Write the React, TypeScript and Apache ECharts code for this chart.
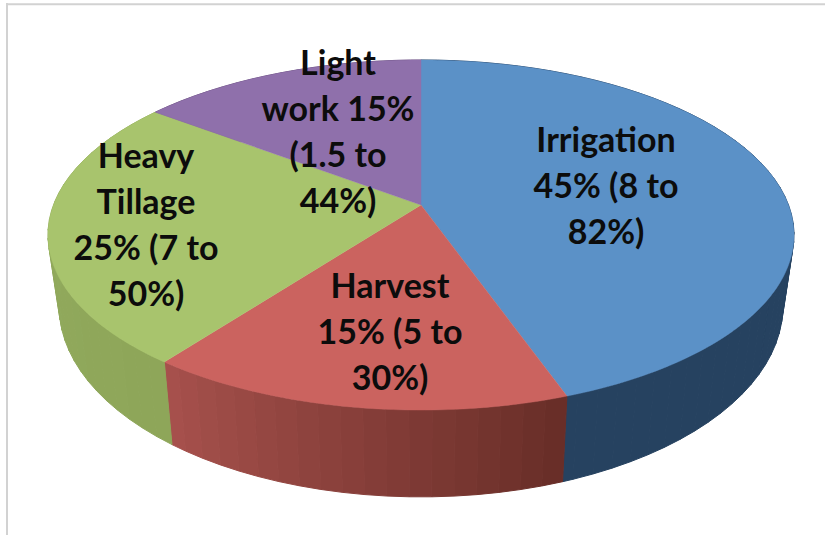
import React, { useEffect, useRef } from "react";
import * as echarts from "echarts";

const categories = ["Irrigation", "Harvest", "Heavy Tillage", "Light work"];
// Slice shares as measured on the picture (the printed labels round these).
const shares = [44.6, 15.7, 25, 14.7];
const labelTexts = [
  "Irrigation\n45% (8 to\n82%)",
  "Harvest\n15% (5 to\n30%)",
  "Heavy\nTillage\n25% (7 to\n50%)",
  "Light\nwork 15%\n(1.5 to\n44%)",
];
const labelCentres = [
  [606, 184],
  [390, 330],
  [146, 223],
  [338, 130],
];
const topColours = ["#5b91c7", "#cb635f", "#a8c46d", "#8f70ab"];
const wallFrom = [[0x26, 0x42, 0x60], [0x69, 0x2e, 0x28], [0x8e, 0xa6, 0x59], [0x6b, 0x52, 0x80]];
const wallTo = [[0x26, 0x42, 0x60], [0xa9, 0x52, 0x4e], [0x94, 0xad, 0x60], [0x6b, 0x52, 0x80]];

const CX = 421;
const PERSPECTIVE = 0.1715;
const TOP = { y: 205, a: 367.5, b: 169.9 };
const BOTTOM = { y: 273.6, a: 356.5, b: 185 };

function project(deg: number, plane: { y: number; a: number; b: number }): number[] {
  const t = (deg * Math.PI) / 180;
  const w = 1 + PERSPECTIVE * Math.cos(t);
  return [CX + (plane.a * Math.sin(t)) / w, plane.y - (plane.b * Math.cos(t)) / w];
}

function sliceRange(index: number): number[] {
  const total = shares.reduce((s, v) => s + v, 0);
  const before = shares.slice(0, index).reduce((s, v) => s + v, 0);
  return [(before / total) * 360, ((before + shares[index]) / total) * 360];
}

function mix(a: number[], b: number[], f: number): string {
  const c = a.map((v, i) => Math.round(v + (b[i] - v) * f));
  return `rgb(${c[0]},${c[1]},${c[2]})`;
}

const STEP = 3;

function renderWall(params: any) {
  const i = params.dataIndex;
  const [start, end] = sliceRange(i);
  const children: any[] = [];
  for (let d = start; d < end - 1e-6; d += STEP) {
    const next = Math.min(d + STEP, end);
    const colour = mix(wallFrom[i], wallTo[i], (d - start) / (end - start));
    children.push({
      type: "polygon",
      shape: { points: [project(d, TOP), project(next, TOP), project(next, BOTTOM), project(d, BOTTOM)] },
      style: { fill: colour, stroke: colour, lineWidth: 1 },
    });
  }
  return { type: "group", children };
}

function renderTop(params: any) {
  const i = params.dataIndex;
  const [start, end] = sliceRange(i);
  const points: number[][] = [[CX, TOP.y]];
  for (let d = start; d < end; d += 1) points.push(project(d, TOP));
  points.push(project(end, TOP));
  return {
    type: "polygon",
    shape: { points },
    style: { fill: topColours[i], stroke: topColours[i], lineWidth: 0.4 },
  };
}

export default function App() {
  const ref = useRef<HTMLDivElement>(null);
  useEffect(() => {
    document.body.style.margin = "0";
    const chart = echarts.init(ref.current!, null, { renderer: "svg" });
    const data = shares.map((value, i) => ({ name: categories[i], value }));
    chart.setOption({
      animation: false,
      backgroundColor: "#ffffff",
      series: [
        { type: "custom", coordinateSystem: "none", renderItem: renderWall, data, z: 1, silent: true },
        { type: "custom", coordinateSystem: "none", renderItem: renderTop, data, z: 2, silent: true },
      ],
      graphic: [
        { type: "line", z: 5, shape: { x1: 6, y1: 4.2, x2: 825, y2: 4.2 }, style: { stroke: "#d2d2d2", lineWidth: 2 } },
        { type: "line", z: 5, shape: { x1: 7, y1: 3, x2: 7, y2: 535 }, style: { stroke: "#d2d2d2", lineWidth: 2 } },
        ...labelTexts.map((text, i) => ({
          type: "text",
          z: 10,
          x: labelCentres[i][0],
          y: labelCentres[i][1],
          style: {
            text,
            fill: "#0c0c0c",
            font: "bold 34px Lato",
            lineHeight: 46,
            align: "center",
            verticalAlign: "middle",
          },
        })),
      ],
    });
    return () => chart.dispose();
  }, []);
  return <div ref={ref} style={{ position: "absolute", left: 0, top: 0, width: 825, height: 535 }} />;
}
